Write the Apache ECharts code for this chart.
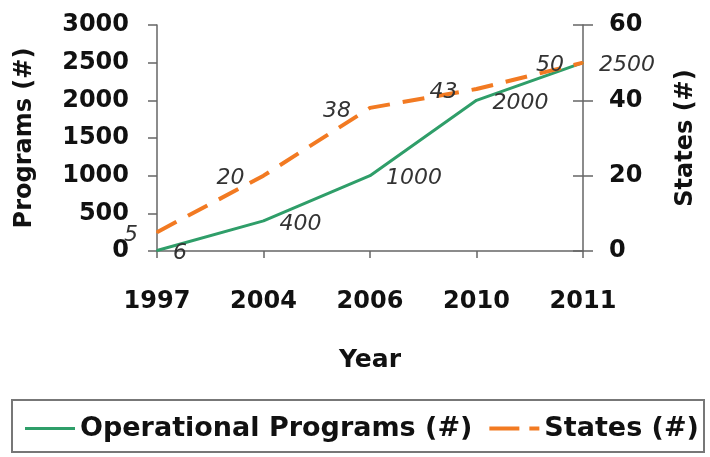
<!DOCTYPE html>
<html><head><meta charset="utf-8">
<script src="https://cdn.jsdelivr.net/npm/echarts@6/dist/echarts.min.js"></script>
<style>html,body{margin:0;padding:0;background:#fff}#c{width:710px;height:457px}</style>
</head><body><div id="c"></div>
<script>
const years = ['1997','2004','2006','2010','2011'];
const programs = [6, 400, 1000, 2000, 2500];
const states = [5, 20, 38, 43, 50];
const leftTicks = [0, 500, 1000, 1500, 2000, 2500, 3000];
const rightTicks = [0, 20, 40, 60];

const FONT = 'DejaVu Sans';
const GREEN = '#2f9e69', ORANGE = '#f27a22';
const chart = echarts.init(document.getElementById('c'));
const axisTxt = {fontFamily: FONT, fontWeight: 'bold', fontSize: 24, color: '#111'};
const lbl = {show: true, fontFamily: FONT, fontStyle: 'italic', fontSize: 22, color: '#333'};
const lineAx = {color: '#666', width: 1.5};
chart.setOption({
  animation: false,
  grid: {left: 157, right: 127, top: 25, bottom: 206},
  xAxis: {
    type: 'category', data: years, boundaryGap: false,
    name: 'Year', nameLocation: 'middle', nameGap: 97,
    nameTextStyle: Object.assign({}, axisTxt, {fontSize: 25}),
    axisLine: {lineStyle: lineAx},
    axisTick: {show: true, length: 7, lineStyle: lineAx},
    axisLabel: Object.assign({margin: 39}, axisTxt)
  },
  yAxis: [{
    type: 'value', min: leftTicks[0], max: leftTicks[leftTicks.length-1], interval: 500,
    name: 'Programs (#)', nameLocation: 'middle', nameGap: 120, nameRotate: 90,
    nameTextStyle: axisTxt,
    splitLine: {show: false},
    axisLine: {show: true, lineStyle: lineAx},
    axisTick: {show: true, length: 9, lineStyle: lineAx},
    axisLabel: Object.assign({margin: 28, formatter: v => String(v)}, axisTxt)
  }, {
    type: 'value', min: rightTicks[0], max: rightTicks[rightTicks.length-1], interval: 20,
    name: 'States (#)', nameLocation: 'middle', nameGap: 91, nameRotate: 90,
    nameTextStyle: axisTxt,
    splitLine: {show: false},
    axisLine: {show: true, lineStyle: lineAx},
    axisTick: {show: true, length: 10, lineStyle: lineAx},
    axisLabel: Object.assign({margin: 26}, axisTxt)
  }, {
    type: 'value', position: 'right', min: rightTicks[0], max: rightTicks[rightTicks.length-1], interval: 20,
    splitLine: {show: false}, axisLine: {show: false},
    axisTick: {show: true, inside: true, length: 10, lineStyle: lineAx},
    axisLabel: {show: false}
  }],
  legend: {
    left: 20, top: 410, itemWidth: 50, itemHeight: 4, itemGap: 17,
    textStyle: {fontFamily: FONT, fontWeight: 'bold', fontSize: 27, color: '#111'},
    itemStyle: {opacity: 1},
    data: [
      {name: 'Operational Programs (#)', icon: 'path://M0,0h50v3h-50z', itemStyle: {color: GREEN, opacity: 1}},
      {name: 'States (#)', icon: 'path://M0,0h30v4h-30z M40,0h10v4h-10z', itemStyle: {color: ORANGE, opacity: 1}}
    ]
  },
  graphic: [{type: 'rect', shape: {x: 12, y: 400, width: 692, height: 52},
    style: {fill: 'none', stroke: '#777', lineWidth: 2}, z: -1}],
  series: [{
    name: 'Operational Programs (#)', type: 'line', data: programs, yAxisIndex: 0,
    symbol: 'circle', symbolSize: 2, showSymbol: true,
    lineStyle: {color: GREEN, width: 3}, itemStyle: {color: GREEN},
    label: Object.assign({position: 'right', distance: 15, offset: [0, 3]}, lbl)
  }, {
    name: 'States (#)', type: 'line', data: states, yAxisIndex: 1,
    symbol: 'circle', symbolSize: 2, showSymbol: true,
    lineStyle: {color: ORANGE, width: 4, type: [22, 13]}, itemStyle: {color: ORANGE},
    label: Object.assign({position: 'left', distance: 18, offset: [0, 3]}, lbl)
  }]
});
</script></body></html>
